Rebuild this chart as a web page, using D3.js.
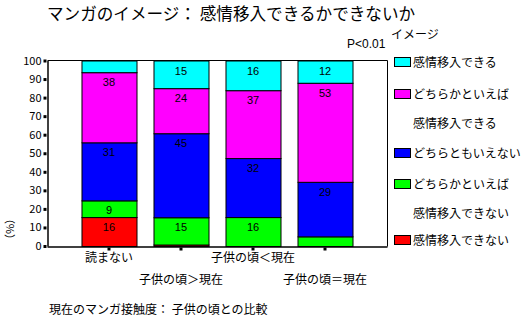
<!DOCTYPE html>
<html><head><meta charset="utf-8">
<script src="https://cdn.jsdelivr.net/npm/d3@7"></script>
<style>
body{margin:0;background:#fff;}
svg{display:block;}
text{font-family:"Noto Sans CJK JP","Noto Sans",sans-serif;fill:#000;}
.num{font-family:"Liberation Sans",Arial,sans-serif;font-size:11px;}
</style></head><body>
<svg id="c" width="528" height="323"></svg>
<script>
const categories = ["読まない", "子供の頃＞現在", "子供の頃＜現在", "子供の頃＝現在"];
const seriesNames = ["感情移入できない", "どちらかといえば\n感情移入できない", "どちらともいえない", "どちらかといえば\n感情移入できる", "感情移入できる"];
const seriesColors = ["#ff0000", "#00ff00", "#0000ff", "#ff00ff", "#00ffff"];
// values per series (bottom to top), one per category
const cantValues     = [15.6, 0.8, 0, 0];
const ratherCant     = [9.0, 14.7, 15.6, 5.2];
const neither        = [31.3, 45.3, 31.8, 29.4];
const ratherCan      = [37.8, 24.3, 36.6, 53.4];
const canValues      = [6.3, 14.9, 16.0, 12.0];
const yTicks = [0,10,20,30,40,50,60,70,80,90,100];

const seriesValues = [cantValues, ratherCant, neither, ratherCan, canValues];
const keys = seriesNames.map((d,i)=>"s"+i);
const rows = categories.map((c,ci)=>{
  const r = {cat:c};
  keys.forEach((k,si)=>r[k]=seriesValues[si][ci]);
  return r;
});
const stack = d3.stack().keys(keys)(rows);

const svg = d3.select("#c");
const L=47, R=387, T=60.5, B=246;
const x = d3.scaleBand().domain(categories).range([L,R]).paddingInner(0.236).paddingOuter(0.479);
const y = d3.scaleLinear().domain([0,100]).range([B,T]);

// title
svg.append("text").attr("x",47).attr("y",19.5).attr("font-size",16.6).text("マンガのイメージ： 感情移入できるかできないか");
svg.append("text").attr("x",391).attr("y",38.5).attr("font-size",12).text("イメージ");
svg.append("text").attr("x",347).attr("y",48).attr("class","num").style("font-size","12px").text("P<0.01");

// bars
const g = svg.append("g");
stack.forEach((s,si)=>{
  g.selectAll(null).data(s).enter().filter(d=>d[1]-d[0]>0).append("rect")
    .attr("x",(d,i)=>x(d.data.cat)+0.5)
    .attr("width",x.bandwidth())
    .attr("y",d=>y(d[1])+0.5)
    .attr("height",d=>y(d[0])-y(d[1]))
    .attr("fill",seriesColors[si])
    .attr("stroke","#000").attr("stroke-width",1);
});
stack.forEach((s,si)=>{
  g.selectAll(null).data(s).enter().filter(d=>d[1]-d[0]>=8).append("text")
    .attr("class","num")
    .attr("x",d=>x(d.data.cat)+x.bandwidth()/2)
    .attr("y",d=>y(d[1])+14)
    .attr("text-anchor","middle")
    .text(d=>Math.round(d[1]-d[0]));
});

// frame
svg.append("path").attr("d",`M${L+0.5},${T}H${R+0.5}V${B+0.5}`).attr("fill","none").attr("stroke","#000");

// y axis
const yAxis = d3.axisLeft(y).tickValues(yTicks).tickSize(0).tickPadding(6);
const ya = svg.append("g").attr("transform",`translate(${L+0.5},0)`).call(yAxis);
ya.select(".domain").attr("stroke","#000").attr("stroke-width",1.5);
ya.selectAll("text").attr("font-family","Liberation Sans, Arial, sans-serif").attr("font-size",11).attr("fill","#000");
ya.selectAll(".tick").append("rect").attr("x",-4).attr("y",-1.5).attr("width",3).attr("height",3).attr("fill","#000");

// x axis
const xAxis = d3.axisBottom(x).tickSize(0).tickFormat("");
const xa = svg.append("g").attr("transform",`translate(0,${B+0.5})`).call(xAxis);
xa.select(".domain").attr("stroke","#000").attr("stroke-width",1.5);
xa.selectAll(".tick").append("rect").attr("x",-1.5).attr("y",1).attr("width",3).attr("height",3).attr("fill","#000");
categories.forEach((c,i)=>{
  svg.append("text").attr("x",x(c)+x.bandwidth()/2).attr("y",i%2===0?262:284)
    .attr("text-anchor","middle").attr("font-size",12).text(c);
});

// y label
svg.append("text").attr("transform","translate(14,229) rotate(-90)").attr("text-anchor","middle").attr("font-size",11).text("（%）");

// bottom caption
svg.append("text").attr("x",49).attr("y",314).attr("font-size",12).text("現在のマンガ接触度： 子供の頃との比較");

// legend (top to bottom)
const legendY = [62, 94, 153, 184, 240];
const order = [4,3,2,1,0];
order.forEach((si,j)=>{
  const yy = legendY[j];
  svg.append("rect").attr("x",394.5).attr("y",yy-4.5).attr("width",16).attr("height",9)
    .attr("fill",seriesColors[si]).attr("stroke","#000");
  const lines = seriesNames[si].split("\n");
  lines.forEach((ln,k)=>{
    svg.append("text").attr("x",413).attr("y",yy+4.5+k*29).attr("font-size",12).text(ln);
  });
});
</script>
</body></html>
